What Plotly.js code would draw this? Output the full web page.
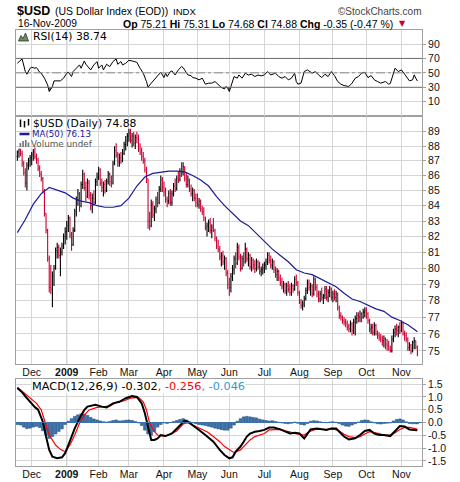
<!DOCTYPE html>
<html><head><meta charset="utf-8">
<script src="https://cdn.plot.ly/plotly-3.0.1.min.js"></script>
<style>html,body{margin:0;padding:0;background:#fff;}#chart{width:460px;height:482px;}</style>
</head><body><div id="chart"></div>
<script>
// ---- data (trading-day index 0 = 17-Nov-2008 ... 251 = 16-Nov-2009) ----
const monthTickIdx = [9,31,51,70,92,113,133,155,177,198,219,241];
const monthTickText = ['Dec','<b>2009</b>','Feb','Mar','Apr','May','Jun','Jul','Aug','Sep','Oct','Nov'];

const priceOpen = [87.3,87.6,87.8,87.5,86.8,86.2,85.5,86.7,87.0,
87.2,87.4,87.6,87.3,87.1,86.5,86.1,85.8,85.0,83.5,82.4,80.6,78.8,78.7,79.5,80.0,81.1,81.3,80.8,81.0,81.4,82.0,
82.3,82.7,83.2,82.1,81.5,82.4,83.6,84.4,84.8,84.0,85.4,86.1,85.2,84.6,85.5,84.7,84.0,84.5,84.2,85.6,
85.9,86.4,85.5,85.2,85.4,85.0,85.6,86.1,85.6,85.5,86.8,87.7,87.4,86.9,87.2,87.0,87.5,88.1,88.4,
88.7,88.9,88.4,88.7,88.2,88.6,88.5,87.8,87.6,87.3,87.0,86.4,85.8,83.0,82.7,84.1,83.4,83.8,84.4,84.2,85.1,85.7,
85.2,84.9,84.4,84.3,84.8,84.2,84.8,85.3,85.1,85.8,85.7,86.3,86.2,86.6,85.8,85.4,85.7,85.1,84.8,85.0,84.5,
84.2,84.1,84.3,83.8,83.6,83.2,82.6,82.7,82.9,82.4,82.6,82.4,81.9,81.4,81.2,80.7,80.8,80.4,80.6,79.7,
79.0,78.8,79.5,79.9,80.6,80.3,81.3,80.7,80.0,80.6,80.4,81.2,80.6,80.8,80.1,80.5,80.2,80.0,80.4,80.1,79.8,79.9,
80.0,80.2,80.4,80.8,80.5,80.2,80.4,79.9,79.6,79.8,79.4,79.1,78.9,79.0,78.6,78.9,78.7,78.5,78.9,78.7,79.3,79.1,
78.5,77.9,77.7,77.8,78.1,78.6,79.1,78.8,78.9,78.4,79.3,78.8,78.4,78.1,78.4,78.2,78.3,78.7,78.2,78.5,78.7,
78.2,78.4,78.2,78.4,77.6,77.1,77.0,76.8,76.7,76.6,76.4,76.3,76.6,76.2,76.7,76.9,77.1,77.0,77.2,77.0,77.3,
77.4,77.2,76.8,76.3,76.4,76.1,76.5,76.0,75.9,75.8,75.7,75.6,75.7,75.4,75.3,75.1,75.0,75.7,76.1,76.3,76.2,76.4,
76.2,76.6,76.0,75.9,75.7,75.2,75.3,75.0,75.5,75.6,75.21];
const priceHigh = [87.7,87.8,87.8,87.7,87.0,86.5,86.9,87.2,87.4,
87.6,87.8,87.9,87.5,87.2,86.7,86.3,85.9,85.1,83.5,82.5,80.8,80.2,79.8,80.2,81.3,81.6,81.5,81.3,81.6,82.2,82.6,
83.0,83.4,83.3,82.3,82.6,83.8,84.6,85.1,84.9,85.6,86.4,86.2,85.6,85.8,85.7,84.9,84.8,85.0,85.8,86.2,
86.6,86.5,85.8,85.6,85.7,85.8,86.3,86.2,86.0,87.0,88.0,88.2,87.6,87.5,87.6,87.8,88.3,88.7,88.9,
89.2,89.2,88.9,89.0,88.8,89.0,88.8,88.2,87.9,87.6,87.2,86.6,85.8,83.6,84.4,84.3,84.0,84.6,84.9,85.3,86.0,85.9,
85.6,85.2,84.6,85.0,85.1,85.0,85.5,85.8,86.0,86.3,86.5,86.9,86.9,86.6,86.2,86.0,85.8,85.4,85.2,85.1,84.8,
84.8,84.5,84.4,84.0,83.9,83.3,82.9,83.1,83.2,82.8,83.2,82.5,82.0,81.8,81.4,81.0,81.1,80.8,80.7,79.9,
79.4,79.7,80.2,80.8,81.0,81.6,81.5,80.9,80.8,81.0,81.6,81.3,81.0,80.9,80.7,80.6,80.5,80.6,80.5,80.4,80.1,80.3,
80.4,80.6,81.0,81.0,80.8,80.6,80.5,80.1,80.0,79.9,79.6,79.4,79.2,79.1,79.1,79.2,79.0,79.1,79.0,79.5,79.6,79.2,
78.6,78.1,78.0,78.3,78.8,79.3,79.3,79.1,79.0,79.5,79.4,79.0,78.6,78.6,78.8,78.4,78.9,78.9,78.7,78.9,78.8,
78.6,78.7,78.6,78.5,77.7,77.3,77.1,77.0,76.9,76.8,76.6,76.8,76.7,76.9,77.1,77.3,77.3,77.4,77.3,77.5,77.6,
77.6,77.3,76.9,76.6,76.6,76.7,76.6,76.2,76.1,76.0,75.9,75.9,75.8,75.7,75.6,75.3,75.9,76.3,76.5,76.6,76.5,76.7,
76.8,76.7,76.2,76.1,75.8,75.5,75.4,75.6,75.8,75.6,75.31];
const priceLow = [87.0,87.2,87.3,86.6,86.0,85.2,85.0,86.4,86.6,
86.7,87.0,87.1,86.8,86.3,85.9,85.6,84.8,83.3,82.2,80.4,78.5,78.4,77.6,78.9,79.9,80.6,80.6,79.5,80.8,81.2,81.5,
81.8,82.3,81.9,81.1,81.4,82.3,83.3,84.0,83.6,83.9,85.1,85.0,84.3,84.5,84.4,83.7,83.5,84.0,84.1,85.3,
85.7,85.3,84.9,84.6,84.8,84.9,85.4,85.3,85.2,85.4,86.7,87.2,86.6,86.6,86.8,86.9,87.4,87.7,88.0,
88.3,88.2,87.9,88.0,87.8,88.2,87.6,87.4,87.0,86.8,86.2,85.5,82.5,82.4,82.6,83.2,83.0,83.5,83.9,84.1,84.9,84.9,
84.6,84.2,83.9,84.1,84.0,84.0,84.6,84.9,85.0,85.5,85.6,85.9,86.0,85.6,85.2,85.2,84.9,84.6,84.3,84.3,83.9,
83.9,83.8,83.6,83.4,83.0,82.4,82.0,82.3,82.2,81.9,82.3,81.7,81.2,81.0,80.5,80.1,80.2,79.9,79.5,78.7,
78.3,78.5,79.2,79.6,80.0,80.2,80.5,79.8,79.9,80.1,80.3,80.4,80.1,79.9,79.8,79.9,79.7,79.8,79.9,79.6,79.5,79.6,
79.7,79.9,80.2,80.3,80.0,79.9,79.7,79.4,79.2,79.2,78.9,78.7,78.5,78.4,78.3,78.5,78.3,78.3,78.5,78.6,78.9,78.3,
77.8,77.5,77.4,77.6,78.0,78.4,78.6,78.3,78.2,78.3,78.6,78.2,77.9,77.9,78.0,77.8,78.1,78.0,77.9,78.2,78.0,
77.9,78.0,77.9,77.4,76.9,76.8,76.6,76.5,76.4,76.2,76.1,76.1,75.9,76.0,75.9,76.6,76.7,76.7,76.7,76.9,77.0,
76.9,76.6,76.1,76.0,75.9,75.9,75.9,75.7,75.6,75.5,75.3,75.2,75.1,75.0,75.0,74.9,74.9,75.5,75.8,75.9,75.8,76.0,
76.1,75.9,75.6,75.5,75.0,75.0,74.8,74.9,75.1,75.1,74.68];
const priceClose = [87.6,87.8,87.5,86.8,86.2,85.5,86.7,87.0,87.2,
87.4,87.6,87.3,87.1,86.5,86.1,85.8,85.0,83.5,82.4,80.6,78.8,78.7,79.5,80.0,81.1,81.3,80.8,81.0,81.4,82.0,82.3,
82.7,83.2,82.1,81.5,82.4,83.6,84.4,84.8,84.0,85.4,86.1,85.2,84.6,85.5,84.7,84.0,84.5,84.2,85.6,85.9,
86.4,85.5,85.2,85.4,85.0,85.6,86.1,85.6,85.5,86.8,87.7,87.4,86.9,87.2,87.0,87.5,88.1,88.4,88.7,
88.9,88.4,88.7,88.2,88.6,88.5,87.8,87.6,87.3,87.0,86.4,85.8,83.0,82.7,84.1,83.4,83.8,84.4,84.2,85.1,85.7,85.2,
84.9,84.4,84.3,84.8,84.2,84.8,85.3,85.1,85.8,85.7,86.3,86.2,86.6,85.8,85.4,85.7,85.1,84.8,85.0,84.5,84.2,
84.1,84.3,83.8,83.6,83.2,82.6,82.7,82.9,82.4,82.6,82.4,81.9,81.4,81.2,80.7,80.8,80.4,80.6,79.7,79.0,
78.8,79.5,79.9,80.6,80.3,81.3,80.7,80.0,80.6,80.4,81.2,80.6,80.8,80.1,80.5,80.2,80.0,80.4,80.1,79.8,79.9,80.0,
80.2,80.4,80.8,80.5,80.2,80.4,79.9,79.6,79.8,79.4,79.1,78.9,79.0,78.6,78.9,78.7,78.5,78.9,78.7,79.3,79.1,78.5,
77.9,77.7,77.8,78.1,78.6,79.1,78.8,78.9,78.4,79.3,78.8,78.4,78.1,78.4,78.2,78.3,78.7,78.2,78.5,78.7,78.2,
78.4,78.2,78.4,77.6,77.1,77.0,76.8,76.7,76.6,76.4,76.3,76.6,76.2,76.7,76.9,77.1,77.0,77.2,77.0,77.3,77.4,
77.2,76.8,76.3,76.4,76.1,76.5,76.0,75.9,75.8,75.7,75.6,75.7,75.4,75.3,75.1,75.0,75.7,76.1,76.3,76.2,76.4,76.2,
76.6,76.0,75.9,75.7,75.2,75.3,75.0,75.5,75.6,75.23,74.88];

const maIdx = [0,5,10,15,20,25,30,35,40,45,50,55,60,65,70,75,80,85,90,95,100,105,110,115,120,125,130,135,140,145,150,155,160,165,170,175,180,185,190,195,200,205,210,215,220,225,230,235,240,245,250,251];
const maVal = [82.25,83.1,84.1,84.8,85.2,85.0,84.85,84.5,84.3,84.2,84.0,83.9,83.9,84.0,84.5,85.3,85.9,86.15,86.25,86.3,86.3,86.25,86.0,85.7,85.3,84.6,84.0,83.5,83.0,82.7,82.2,81.7,81.2,80.8,80.4,79.9,79.7,79.6,79.35,79.1,78.85,78.45,78.1,77.95,77.7,77.5,77.35,77.0,76.8,76.55,76.2,76.13];

const rsiIdx = [0,2,3,5,6,8,9,11,12,14,15,17,19,20,22,23,25,27,29,31,32,34,35,38,39,40,42,43,44,46,48,50,51,53,54,56,58,60,62,63,65,66,68,70,72,74,75,77,79,81,82,84,86,87,89,90,92,93,94,96,97,99,101,103,104,106,107,109,110,112,114,116,118,120,122,124,126,128,130,131,132,133,134,136,138,139,141,143,145,147,149,151,153,155,157,159,162,164,166,168,170,172,174,175,176,178,180,182,185,187,189,191,193,195,197,199,201,203,205,208,210,212,214,216,218,220,222,224,226,228,231,233,234,236,237,239,241,243,245,246,248,249,250,251];
const rsiVal = [63.3,67.9,69.3,51.8,48.1,56.4,57.8,56.4,57.3,50.9,49.5,42.6,33.4,24.1,31.1,38.9,38.9,38.9,42.6,49.5,50.9,44.9,51.8,58.7,61.0,56.4,66.5,61.9,58.7,54.1,61.0,65.6,56.4,61.0,54.1,61.9,58.7,65.6,69.3,61.9,65.6,61.0,63.3,67.4,66.5,65.6,64.6,56.4,49.5,38.0,30.1,35.7,40.3,43.5,48.1,50.9,43.5,49.5,44.9,51.8,52.7,47.1,54.1,58.7,57.3,49.5,47.1,46.2,43.5,42.6,40.3,42.6,34.3,35.7,35.7,38.0,33.4,29.7,27.8,31.1,28.7,24.1,31.1,44.9,42.6,47.1,42.6,49.5,47.1,48.1,44.9,47.1,45.8,47.1,51.8,47.1,49.5,44.9,42.6,44.9,40.3,42.6,49.5,38.0,34.3,35.7,51.8,54.1,49.5,51.8,47.1,43.5,48.1,44.9,51.8,46.2,38.0,34.3,32.4,31.1,35.7,42.6,44.9,49.5,50.9,43.5,46.2,40.3,38.0,35.7,38.0,34.3,35.2,49.5,56.4,51.8,54.1,48.1,42.6,38.9,40.3,47.1,42.6,38.74];

const macdIdx = [0,3,5,7,9,11,13,14,16,18,20,22,25,28,30,32,34,36,39,42,44,46,49,53,56,60,64,68,72,75,78,80,82,84,86,88,90,93,97,100,103,105,107,110,114,118,123,127,130,133,135,137,140,142,144,146,149,152,155,158,161,165,168,171,174,177,180,182,184,188,191,194,197,200,202,205,208,212,215,218,221,224,227,230,234,237,240,243,246,249,251];
const macdVal = [1.35,1.18,1.02,0.88,0.71,0.60,0.50,0.36,0.03,-0.55,-1.07,-1.34,-1.40,-1.36,-1.20,-0.88,-0.55,-0.23,0.16,0.49,0.62,0.64,0.69,0.62,0.59,0.75,0.81,0.95,1.03,1.00,0.75,0.36,-0.23,-0.68,-0.68,-0.62,-0.49,-0.53,-0.43,-0.23,-0.03,0.07,0.03,-0.10,-0.29,-0.49,-0.75,-1.07,-1.27,-1.40,-1.36,-1.14,-0.94,-0.75,-0.55,-0.43,-0.36,-0.33,-0.29,-0.20,-0.20,-0.27,-0.36,-0.43,-0.40,-0.43,-0.62,-0.43,-0.27,-0.23,-0.25,-0.29,-0.23,-0.23,-0.36,-0.55,-0.66,-0.62,-0.49,-0.33,-0.29,-0.43,-0.49,-0.49,-0.53,-0.33,-0.14,-0.16,-0.27,-0.29,-0.302];
const signalIdx = [0,3,5,8,12,15,18,20,24,27,30,33,36,39,42,45,50,54,58,62,67,71,76,79,81,83,86,88,92,96,100,104,107,110,115,119,123,127,130,133,136,140,143,146,149,152,155,158,165,168,171,174,180,183,187,199,202,205,208,212,215,218,221,227,230,234,237,240,243,246,249,251];
const signalVal = [1.38,1.22,1.12,0.99,0.75,0.49,-0.10,-0.49,-0.88,-1.05,-1.14,-0.88,-0.49,-0.03,0.29,0.49,0.59,0.62,0.64,0.78,0.85,0.95,0.98,0.81,0.49,-0.03,-0.36,-0.49,-0.53,-0.46,-0.33,-0.06,-0.01,-0.10,-0.23,-0.36,-0.55,-0.75,-0.94,-1.07,-1.18,-1.07,-0.88,-0.68,-0.55,-0.49,-0.43,-0.29,-0.27,-0.33,-0.36,-0.43,-0.49,-0.36,-0.27,-0.27,-0.33,-0.46,-0.55,-0.59,-0.55,-0.45,-0.36,-0.43,-0.49,-0.49,-0.40,-0.27,-0.19,-0.19,-0.23,-0.256];
const histIdx = [0,2,4,6,8,10,12,14,16,18,20,22,24,26,28,30,32,34,36,38,40,42,44,46,48,50,52,54,56,58,60,62,64,66,68,70,72,74,76,78,80,82,84,86,88,90,92,94,96,98,100,102,104,106,108,110,112,114,116,118,120,122,124,126,128,130,132,134,136,138,140,142,144,146,148,150,152,154,156,158,160,162,164,166,168,170,172,174,176,178,180,182,184,186,188,190,192,194,196,198,200,202,204,206,208,210,212,214,216,218,220,222,224,226,228,230,232,234,236,238,240,242,244,246,248,250,251];
const histVal = [-0.08,-0.10,-0.18,-0.24,-0.22,-0.18,-0.15,-0.20,-0.32,-0.48,
-0.62,-0.55,-0.45,-0.35,-0.25,-0.08,0.05,0.15,0.24,0.30,
0.34,0.33,0.28,0.20,0.14,0.10,0.06,0.03,0.02,0.04,
0.08,0.10,0.06,0.07,0.09,0.10,0.08,0.04,-0.02,-0.12,
-0.30,-0.45,-0.50,-0.35,-0.18,-0.08,-0.02,-0.04,0.00,0.04,
0.08,0.12,0.15,0.10,0.03,-0.02,-0.05,-0.08,-0.10,-0.12,
-0.15,-0.18,-0.22,-0.25,-0.28,-0.30,-0.30,-0.22,-0.10,0.05,
0.15,0.22,0.24,0.22,0.20,0.18,0.13,0.10,0.08,0.06,
0.07,0.04,0.01,-0.02,-0.04,-0.05,-0.03,0.02,-0.03,-0.08,
-0.10,-0.04,0.05,0.07,0.06,0.03,0.00,-0.01,0.02,0.03,
0.01,-0.04,-0.10,-0.14,-0.15,-0.10,-0.05,0.02,0.08,0.10,
0.09,0.03,-0.02,-0.05,-0.06,-0.04,-0.03,-0.02,0.06,0.12,
0.14,0.10,0.03,-0.04,-0.05,-0.05,-0.046];

const priceTicks = [75,76,77,78,79,80,81,82,83,84,85,86,87,88,89];
const rsiTicks = [10,30,50,70,90];
const macdTicks = [-1.5,-1.0,-0.5,0,0.5,1.0,1.5];
const macdTickText = ['-1.5','-1.0','-0.5','0.0','0.5','1.0','1.5'];

// ---- geometry helpers (pixel -> paper) ----
const W=460, H=482, ML=16, MR=38, MT=30, MB=16;
const PW=W-ML-MR, PH=H-MT-MB;
const px = x => (x-ML)/PW;
const py = y => (H-MB-y)/PH;
const dayIdx = priceClose.map((_, i) => i);
const xRange = [-0.85, 253.9];
const GRID = '#d6d6d6', BORDER = '#a0a0a0';
const tickFont = {family:'Liberation Sans, Arial, sans-serif', size:10.5, color:'#111'};
const legFont = 'DejaVu Sans, sans-serif';

function xAxis(anchor, labels) {
  return {anchor, domain:[0,1], range:xRange, tickmode:'array', tickvals:monthTickIdx, ticktext:monthTickText,
    showticklabels:labels, showgrid:true, gridcolor:GRID, gridwidth:1, zeroline:false,
    showline:true, linecolor:BORDER, linewidth:1, mirror:true, ticks:'', ticklen:0, ticklabelstandoff:-2,
    tickfont:tickFont, rangeslider:{visible:false}, fixedrange:true};
}
function yAxis(domain, range, tv, tt, extra) {
  return Object.assign({domain, range, side:'right', tickmode:'array', tickvals:tv, ticktext:tt,
    showgrid:true, gridcolor:GRID, gridwidth:1, zeroline:false, showline:true, linecolor:BORDER,
    linewidth:1, mirror:true, ticks:'outside', ticklen:3, tickcolor:BORDER, tickfont:tickFont, fixedrange:true}, extra||{});
}

const traces = [
  {type:'ohlc', x:dayIdx, open:priceOpen, high:priceHigh, low:priceLow, close:priceClose,
   xaxis:'x2', yaxis:'y2', tickwidth:0.45, hoverinfo:'skip',
   increasing:{line:{color:'#000000', width:1.1}}, decreasing:{line:{color:'#cc0033', width:1.1}}},
  {type:'scatter', mode:'lines', x:maIdx, y:maVal, xaxis:'x2', yaxis:'y2',
   line:{color:'#1c1c96', width:1.2}, hoverinfo:'skip'},
  {type:'scatter', mode:'lines', x:rsiIdx, y:rsiIdx.map(()=>30), xaxis:'x3', yaxis:'y3',
   line:{width:0, color:'rgba(0,0,0,0)'}, hoverinfo:'skip'},
  {type:'scatter', mode:'lines', x:rsiIdx, y:rsiVal.map(v=>Math.min(v,30)), xaxis:'x3', yaxis:'y3',
   fill:'tonexty', fillcolor:'#a35a5a', line:{width:0, color:'rgba(0,0,0,0)'}, hoverinfo:'skip'},
  {type:'scatter', mode:'lines', x:rsiIdx, y:rsiVal, xaxis:'x3', yaxis:'y3',
   line:{color:'#000', width:1}, hoverinfo:'skip'},
  {type:'bar', x:histIdx, y:histVal, width:1.7, xaxis:'x', yaxis:'y',
   marker:{color:'#3d72a8', line:{color:'#1d4f80', width:0.5}}, hoverinfo:'skip'},
  {type:'scatter', mode:'lines', x:signalIdx, y:signalVal, xaxis:'x', yaxis:'y',
   line:{color:'#ff0000', width:1.2}, hoverinfo:'skip'},
  {type:'scatter', mode:'lines', x:macdIdx, y:macdVal, xaxis:'x', yaxis:'y',
   line:{color:'#000', width:2}, hoverinfo:'skip'}
];

const P = (x,y) => px(x).toFixed(5)+','+py(y).toFixed(5);
const shapes = [
  {type:'line', xref:'paper', x0:0, x1:1, yref:'y3', y0:30, y1:30, line:{color:'#6e6e6e', width:1}},
  {type:'line', xref:'paper', x0:0, x1:1, yref:'y3', y0:70, y1:70, line:{color:'#6e6e6e', width:1}},
  {type:'line', xref:'paper', x0:0, x1:1, yref:'y3', y0:50, y1:50, line:{color:'#8a8a8a', width:1, dash:'dashdot'}},
  {type:'line', xref:'paper', x0:0, x1:1, yref:'y', y0:0, y1:0, line:{color:'#3d72a8', width:1}},
  {type:'line', xref:'x', x0:31, x1:31, yref:'y domain', y0:0, y1:1, line:{color:'#b8b8b8', width:1}, layer:'below'},
  {type:'line', xref:'x2', x0:31, x1:31, yref:'y2 domain', y0:0, y1:1, line:{color:'#b8b8b8', width:1}, layer:'below'},
  {type:'line', xref:'x3', x0:31, x1:31, yref:'y3 domain', y0:0, y1:1, line:{color:'#b8b8b8', width:1}, layer:'below'},
  // legend icons
  {type:'path', xref:'paper', yref:'paper', path:'M'+P(18.5,41)+' L'+P(21,35.5)+' L'+P(23,38.5)+' L'+P(25.5,33)+' L'+P(28.5,41)+' Z',
   fillcolor:'#6b8e5a', line:{color:'#333', width:0.8}},
  {type:'line', xref:'paper', yref:'paper', x0:px(20.5), x1:px(20.5), y0:py(119.5), y1:py(127), line:{color:'#000', width:1.5}},
  {type:'line', xref:'paper', yref:'paper', x0:px(24.5), x1:px(24.5), y0:py(121), y1:py(127.5), line:{color:'#000', width:1.5}},
  {type:'line', xref:'paper', yref:'paper', x0:px(28.5), x1:px(28.5), y0:py(119), y1:py(125.5), line:{color:'#000', width:1.5}},
  {type:'line', xref:'paper', yref:'paper', x0:px(19.5), x1:px(29.5), y0:py(134), y1:py(134), line:{color:'#1c1c96', width:2.5}},
  {type:'rect', xref:'paper', yref:'paper', x0:px(19.5), x1:px(21.2), y0:py(147), y1:py(143), fillcolor:'#777', line:{width:0}},
  {type:'rect', xref:'paper', yref:'paper', x0:px(22.2), x1:px(23.9), y0:py(147), y1:py(141), fillcolor:'#777', line:{width:0}},
  {type:'rect', xref:'paper', yref:'paper', x0:px(24.9), x1:px(26.6), y0:py(147), y1:py(140), fillcolor:'#777', line:{width:0}},
  {type:'rect', xref:'paper', yref:'paper', x0:px(27.6), x1:px(29.3), y0:py(147), y1:py(142.5), fillcolor:'#777', line:{width:0}}
];

function ann(text, x, y, opts) {
  return Object.assign({xref:'paper', yref:'paper', x:px(x), y:py(y), xanchor:'left', yanchor:'middle',
    text, showarrow:false, borderpad:0, font:{family:'Liberation Sans, Arial, sans-serif', size:10.5, color:'#000'}}, opts||{});
}
const annotations = [
  ann('<b>$USD</b>', 16, 11, {font:{family:'Liberation Sans, Arial, sans-serif', size:12.5, color:'#000'}}),
  ann('(US Dollar Index (EOD))', 53.5, 11.5, {font:{family:'Liberation Sans, Arial, sans-serif', size:10.5, color:'#000'}}),
  ann('INDX', 171.5, 11.5, {font:{family:'Liberation Sans, Arial, sans-serif', size:9.6, color:'#000'}}),
  ann('©StockCharts.com', 422.5, 11.5, {xanchor:'right', font:{family:'Liberation Sans, Arial, sans-serif', size:10, color:'#444'}}),
  ann('16-Nov-2009', 16.5, 23.5, {font:{family:'Liberation Sans, Arial, sans-serif', size:10.2, color:'#000'}}),
  ann('<b>Op</b> 75.21 <b>Hi</b> 75.31 <b>Lo</b> 74.68 <b>Cl</b> 74.88 <b>Chg</b> -0.35 (-0.47 %)', 394, 23.5,
      {xanchor:'right', font:{family:'Liberation Sans, Arial, sans-serif', size:10.5, color:'#000'}}),
  ann('▼', 398, 23.5, {font:{family:'DejaVu Sans, sans-serif', size:8, color:'#cc0033'}}),
  ann('RSI(14) 38.74', 31.5, 36.5, {font:{family:legFont, size:10.75, color:'#000'}}),
  ann('$USD (Daily) 74.88', 31.5, 123.5, {font:{family:legFont, size:10.8, color:'#000'}}),
  ann('MA(50) 76.13', 30.5, 134, {font:{family:legFont, size:8.7, color:'#1c1c96'}}),
  ann('Volume undef', 30, 144, {font:{family:legFont, size:8.8, color:'#555'}}),
  ann('MACD(12,26,9) -0.302<span style="color:#ff0000">, -0.256</span><span style="color:#3399cc">, -0.046</span>', 31, 386,
      {bgcolor:'#ffffff', font:{family:legFont, size:11.3, color:'#000'}})
];

const layout = {
  width:W, height:H, margin:{l:ML, r:MR, t:MT, b:MB, pad:0},
  paper_bgcolor:'#fff', plot_bgcolor:'#fff', showlegend:false, hovermode:false,
  font:{family:'Liberation Sans, Arial, sans-serif', size:10, color:'#111'},
  xaxis: xAxis('y', true),
  xaxis2: xAxis('y2', true),
  xaxis3: xAxis('y3', false),
  yaxis: yAxis([0, py(379)], [-1.70, 1.70], macdTicks, macdTickText),
  yaxis2: yAxis([py(364), py(116)], [1.8706, 1.9547], priceTicks, priceTicks.map(String), {type:'log'}),
  yaxis3: yAxis([py(116), 1], [-9.8, 109.4], rsiTicks, rsiTicks.map(String), {showgrid:true}),
  shapes, annotations, bargap:0
};

Plotly.newPlot('chart', traces, layout, {staticPlot:true, displayModeBar:false});
</script></body></html>
